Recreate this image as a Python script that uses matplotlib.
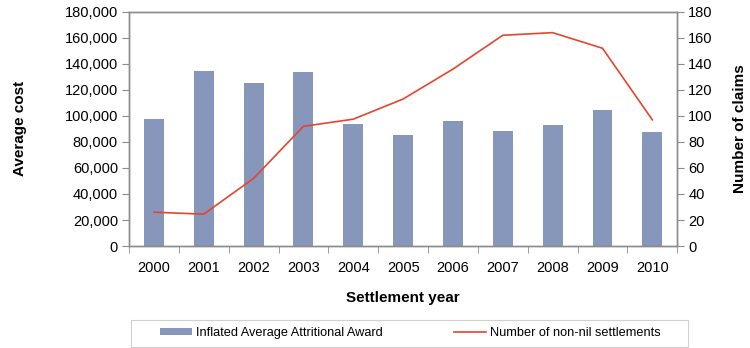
import matplotlib
matplotlib.use("Agg")
import matplotlib.pyplot as plt
from matplotlib.patches import Rectangle
import numpy as np

plt.rcParams['font.family'] = ['Liberation Sans', 'DejaVu Sans']

years = ['2000', '2001', '2002', '2003', '2004', '2005',
         '2006', '2007', '2008', '2009', '2010']
avg_award = [97700, 134600, 125600, 133800, 93600, 85600,
             96400, 88500, 92800, 104800, 87400]
non_nil = [26, 24.5, 52, 92, 97.5, 113, 136, 162, 164, 152, 97]

bar_col = '#8796bb'
line_col = '#e5452d'
spine_col = '#8c8c8c'

fig = plt.figure(figsize=(7.5, 3.48), dpi=100)
ax = fig.add_axes([0.172, 0.293, 0.731, 0.673])
ax2 = ax.twinx()

x = np.arange(len(years))
bars = ax.bar(x, avg_award, width=0.4, color=bar_col,
              label='Inflated Average Attritional Award', zorder=2)
line, = ax2.plot(x, non_nil, color=line_col, lw=1.2,
                 label='Number of non-nil settlements')

ax.set_xlim(-0.5, len(years) - 0.5)
ax.set_ylim(0, 180000)
ax.set_yticks(range(0, 180001, 20000))
ax.set_yticklabels([f'{v:,}' for v in range(0, 180001, 20000)])
ax2.set_ylim(0, 180)
ax2.set_yticks(range(0, 181, 20))

ax.set_xticks(x)
ax.set_xticklabels(years)
ax.set_xticks(np.arange(-0.5, len(years)), minor=True)
ax.tick_params(axis='x', which='major', length=0, pad=11, labelsize=10.5)
ax.tick_params(axis='x', which='minor', length=5, color=spine_col)
ax.tick_params(axis='y', length=5, color=spine_col, labelsize=10.5, pad=3)
ax2.tick_params(axis='y', length=5, color=spine_col, labelsize=10.5, pad=3)

for a in (ax, ax2):
    for s in a.spines.values():
        s.set_color(spine_col)
        s.set_linewidth(1)

ax.set_ylabel('Average cost', fontsize=11, fontweight='bold')
ax2.set_ylabel('Number of claims', fontsize=11, fontweight='bold')
ax.set_xlabel('Settlement year', fontsize=11, fontweight='bold')
ax.yaxis.set_label_coords(-0.186, 0.5)
ax2.yaxis.set_label_coords(1.102, 0.5)
ax.xaxis.set_label_coords(0.5, -0.192)

# legend box
fig.patches.append(Rectangle((0.1747, 0.003), 0.7426, 0.0775,
                             transform=fig.transFigure, fill=False,
                             edgecolor='#d0d0d0', lw=0.8))
fig.legend([bars, line], [bars.get_label(), line.get_label()],
           loc='center', bbox_to_anchor=(0.547, 0.042), ncol=2,
           fontsize=9.2, frameon=False, columnspacing=5.6,
           handlelength=2.5, handleheight=0.45, handletextpad=0.3)

fig.savefig('out.png', dpi=100)
